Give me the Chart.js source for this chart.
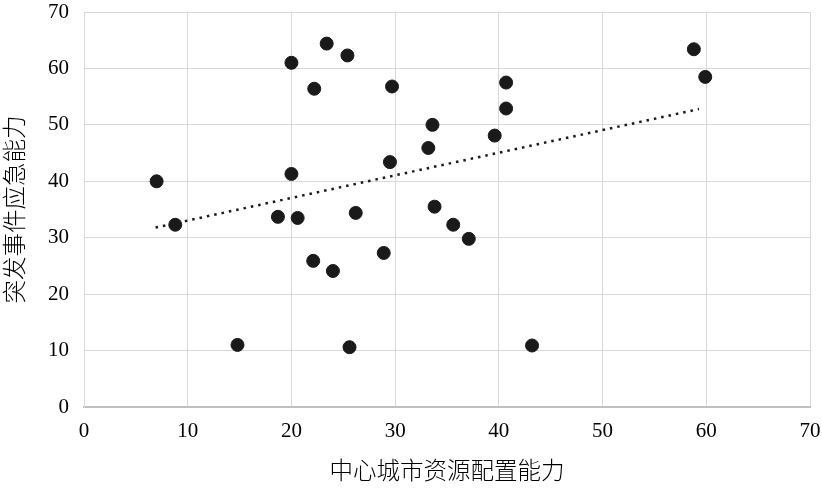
<!DOCTYPE html>
<html>
<head>
<meta charset="utf-8">
<script src="https://cdn.jsdelivr.net/npm/chart.js@4/dist/chart.umd.min.js"></script>
<style>
  html, body { margin: 0; padding: 0; background: #fff; }
  #wrap { width: 822px; height: 488px; }
</style>
</head>
<body>
<div id="wrap"><canvas id="chart"></canvas></div>
<script>
// 中心城市资源配置能力 (x) vs 突发事件应急能力 (y)
const xValues = [7.0, 8.8, 14.8, 18.7, 20.0, 20.0, 20.6, 22.2, 22.1, 23.4, 24.0, 25.4, 25.6, 26.2,
  28.9, 29.7, 29.5, 33.2, 33.6, 33.8, 35.6, 37.1, 39.6, 40.7, 40.7, 43.2, 58.8, 59.9];
const yValues = [40.0, 32.3, 11.0, 33.7, 61.0, 41.3, 33.5, 56.4, 25.9, 64.4, 24.1, 62.3, 10.6, 34.4,
  27.3, 56.8, 43.4, 45.9, 50.0, 35.5, 32.3, 29.8, 48.1, 57.5, 52.9, 10.9, 63.4, 58.5];

// linear trendline end points
const trendX = [6.9, 59.3];
const trendY = [31.8, 52.8];

const xTitle = '中心城市资源配置能力';
const yTitle = '突发事件应急能力';

const points = xValues.map((x, i) => ({ x: x, y: yValues[i] }));
const trend = trendX.map((x, i) => ({ x: x, y: trendY[i] }));

const tickFont = { family: '"Liberation Serif", "Times New Roman", serif', size: 21, lineHeight: 1 };
const titleFont = { family: '"Noto Sans CJK SC", sans-serif', size: 23.5, weight: 300 };

new Chart(document.getElementById('chart'), {
  type: 'scatter',
  data: {
    datasets: [
      {
        data: points,
        backgroundColor: '#1a1a1a',
        borderColor: '#1a1a1a',
        pointRadius: 6.5,
        pointHoverRadius: 6.5
      },
      {
        type: 'line',
        data: trend,
        showLine: true,
        borderColor: '#1a1a1a',
        borderWidth: 2.5,
        borderDash: [2.5, 5],
        pointRadius: 0,
        fill: false
      }
    ]
  },
  options: {
    responsive: true,
    maintainAspectRatio: false,
    animation: false,
    layout: { padding: { top: 12, right: 12, bottom: 4, left: 0 } },
    plugins: {
      legend: { display: false },
      tooltip: { enabled: false }
    },
    scales: {
      x: {
        type: 'linear',
        min: 0,
        max: 70,
        ticks: { stepSize: 10, color: '#000', font: tickFont, padding: 14 },
        grid: { color: '#d9d9d9', lineWidth: 1, drawTicks: false },
        border: { color: '#bfbfbf', width: 2 },
        title: { display: true, text: xTitle, color: '#000', font: titleFont, padding: 0 },
        afterFit: (s) => { s.height = 77; s.paddingLeft = 0; s.paddingRight = 0; }
      },
      y: {
        min: 0,
        max: 70,
        ticks: { stepSize: 10, color: '#000', font: tickFont, padding: 15 },
        grid: { color: '#d9d9d9', lineWidth: 1, drawTicks: false },
        border: { color: '#d9d9d9', width: 1 },
        title: { display: true, text: yTitle, color: '#000', font: titleFont, padding: 0 },
        afterFit: (s) => { s.width = 84; s.paddingTop = 0; s.paddingBottom = 0; }
      }
    }
  }
});
</script>
</body>
</html>
